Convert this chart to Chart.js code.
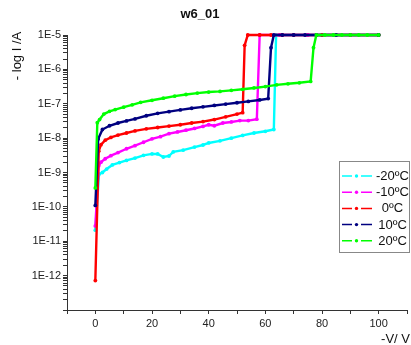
<!DOCTYPE html>
<html>
<head>
<meta charset="utf-8">
<script src="https://cdn.jsdelivr.net/npm/chart.js@4/dist/chart.umd.min.js"></script>
<style>
  html, body { margin: 0; padding: 0; background: #fff; }
  canvas { display: block; }
</style>
</head>
<body>
<canvas id="ivChart" width="411" height="345"></canvas>
<script>
// Series labels (top to bottom in the legend)
const seriesLabels = ['-20ºC', '-10ºC', '0ºC', '10ºC', '20ºC'];

// -V / V and current I / A for each temperature
const voltsM20 = [0, 1.3, 2.5, 4, 6, 8.5, 11, 14, 17, 20, 22, 24, 26, 27.5, 31, 35, 38, 40, 44, 48, 52, 56, 60, 63, 63.8, 70, 80, 90, 100];
const currentM20 = [2.1e-11, 8.9e-10, 1.0e-9, 1.26e-9, 1.66e-9, 1.95e-9, 2.24e-9, 2.63e-9, 3.16e-9, 3.47e-9, 3.47e-9, 2.82e-9, 3.02e-9, 3.98e-9, 4.47e-9, 5.5e-9, 6.31e-9, 7.24e-9, 8.32e-9, 1.0e-8, 1.2e-8, 1.41e-8, 1.58e-8, 1.78e-8, 1e-5, 1e-5, 1e-5, 1e-5, 1e-5];

const voltsM10 = [0, 1.2, 2, 3.5, 5.5, 8, 11, 14, 17, 20, 23, 26, 29, 32, 35, 38, 40, 42, 45, 48, 51, 54, 57, 58, 65, 75, 85, 100];
const currentM10 = [2.8e-11, 1.58e-9, 2.0e-9, 2.51e-9, 3.09e-9, 3.8e-9, 4.9e-9, 6.03e-9, 7.59e-9, 9.55e-9, 1.1e-8, 1.35e-8, 1.51e-8, 1.7e-8, 1.91e-8, 2.19e-8, 2.45e-8, 2.29e-8, 2.75e-8, 2.95e-8, 3.24e-8, 3.24e-8, 3.55e-8, 1e-5, 1e-5, 1e-5, 1e-5, 1e-5];

const volts0 = [0, 1.2, 2, 3.5, 5.5, 8, 11, 14, 18, 22, 26, 30, 34, 38, 42, 46, 50, 52, 52.7, 53.8, 58, 62, 66, 70, 80, 90, 100];
const current0 = [7.2e-13, 4.17e-9, 6.46e-9, 8.71e-9, 1.05e-8, 1.23e-8, 1.41e-8, 1.62e-8, 1.86e-8, 2.04e-8, 2.24e-8, 2.45e-8, 2.75e-8, 3.02e-8, 3.47e-8, 4.17e-8, 5.01e-8, 5.5e-8, 5.01e-6, 1e-5, 1e-5, 1e-5, 1e-5, 1e-5, 1e-5, 1e-5, 1e-5];

const volts10 = [0, 1, 2.5, 5, 8, 11, 14, 18, 22, 26, 30, 34, 38, 42, 46, 50, 54, 58, 61, 62, 63, 66, 70, 74, 78, 85, 100];
const current10 = [1.1e-10, 9.5e-9, 1.78e-8, 2.29e-8, 2.75e-8, 3.16e-8, 3.63e-8, 4.47e-8, 5.25e-8, 5.89e-8, 6.61e-8, 7.41e-8, 8.13e-8, 8.91e-8, 9.77e-8, 1.07e-7, 1.17e-7, 1.29e-7, 1.41e-7, 4.27e-6, 1e-5, 1e-5, 1e-5, 1e-5, 1e-5, 1e-5, 1e-5];

const volts20 = [0, 0.7, 1.5, 3, 5, 7, 10, 13, 16, 20, 24, 28, 32, 36, 40, 44, 48, 52, 56, 60, 64, 68, 72, 76, 77, 78, 81, 84, 87, 90, 93, 96, 100];
const current20 = [3.55e-10, 2.82e-8, 3.47e-8, 5.01e-8, 6.03e-8, 6.76e-8, 7.94e-8, 9.33e-8, 1.1e-7, 1.26e-7, 1.45e-7, 1.66e-7, 1.86e-7, 2.04e-7, 2.19e-7, 2.29e-7, 2.45e-7, 2.63e-7, 2.88e-7, 3.16e-7, 3.55e-7, 3.8e-7, 4.07e-7, 4.47e-7, 4.27e-6, 1e-5, 1e-5, 1e-5, 1e-5, 1e-5, 1e-5, 1e-5, 1e-5];

// Axis ticks
const xTickLabels = [0, 20, 40, 60, 80, 100];
const yDecades = [-12, -11, -10, -9, -8, -7, -6, -5];

const seriesVolts = [voltsM20, voltsM10, volts0, volts10, volts20];
const seriesCurrent = [currentM20, currentM10, current0, current10, current20];
const seriesColors = ['#00ffff', '#ff00ff', '#ff0000', '#000080', '#00ff00'];

const FONT = '"Liberation Sans", Arial, sans-serif';

// Build datasets; the warmer curves are drawn on top
const datasets = seriesLabels.map((label, i) => ({
  label: label,
  data: seriesVolts[i].map((v, j) => ({ x: v, y: seriesCurrent[i][j] })),
  borderColor: seriesColors[i],
  backgroundColor: seriesColors[i],
  borderWidth: 2.4,
  pointRadius: 1.9,
  pointBorderWidth: 0,
  pointBackgroundColor: seriesColors[i],
  tension: 0,
  clip: false,
  order: seriesLabels.length - 1 - i
}));

// Title, axis titles and boxed legend
const overlayPlugin = {
  id: 'overlay',
  afterDraw(chart) {
    const ctx = chart.ctx;
    ctx.save();
    ctx.fillStyle = '#111';
    ctx.textAlign = 'center';
    ctx.textBaseline = 'middle';
    ctx.font = 'bold 13px ' + FONT;
    ctx.fillText('w6_01', 200, 14);

    ctx.font = '13px ' + FONT;
    ctx.save();
    ctx.translate(17, 56);
    ctx.rotate(-Math.PI / 2);
    ctx.fillText('- log I /A', 0, 0);
    ctx.restore();

    ctx.textAlign = 'right';
    ctx.fillText('-V/ V', 410, 339);

    // legend box
    ctx.strokeStyle = '#888';
    ctx.lineWidth = 1;
    ctx.fillStyle = '#fff';
    ctx.fillRect(339.5, 161.5, 70, 91);
    ctx.strokeRect(339.5, 161.5, 70, 91);

    seriesLabels.forEach((label, i) => {
      const y = 176 + i * 16.2;
      ctx.strokeStyle = seriesColors[i];
      ctx.fillStyle = seriesColors[i];
      ctx.lineWidth = 1.5;
      ctx.beginPath();
      ctx.moveTo(342, y); ctx.lineTo(352, y);
      ctx.moveTo(361, y); ctx.lineTo(372, y);
      ctx.stroke();
      ctx.beginPath();
      ctx.arc(356.5, y, 1.7, 0, Math.PI * 2);
      ctx.fill();
      ctx.fillStyle = '#111';
      ctx.textAlign = 'center';
      ctx.fillText(label, 392.5, y + 0.5);
    });
    ctx.restore();
  }
};

const ctx = document.getElementById('ivChart').getContext('2d');
new Chart(ctx, {
  type: 'line',
  data: { datasets: datasets },
  options: {
    responsive: false,
    animation: false,
    layout: { padding: { top: 35, right: 2.5, left: 0, bottom: 0 } },
    plugins: {
      legend: { display: false },
      title: { display: false },
      tooltip: { enabled: false }
    },
    scales: {
      x: {
        type: 'linear',
        min: -10,
        max: 110,
        afterFit: s => { s.height = 35; },
        afterBuildTicks: s => {
          const t = [];
          for (let v = -10; v <= 110; v += 10) t.push({ value: v });
          s.ticks = t;
        },
        ticks: {
          autoSkip: false,
          maxRotation: 0,
          padding: 3,
          color: '#222',
          font: { family: FONT, size: 11 },
          callback: v => xTickLabels.includes(v) ? String(v) : ''
        },
        grid: { drawOnChartArea: false, drawTicks: true, tickLength: 4, color: '#333' },
        border: { display: true, color: '#333', width: 1 }
      },
      y: {
        type: 'logarithmic',
        min: 1e-13,
        max: 1e-5,
        afterFit: s => { s.width = 67; },
        afterBuildTicks: s => {
          const t = [];
          for (let e = -13; e <= -6; e++) {
            for (let m = 1; m <= 9; m++) t.push({ value: parseFloat(m + 'e' + e) });
          }
          t.push({ value: 1e-5 });
          s.ticks = t;
        },
        ticks: {
          autoSkip: false,
          padding: 2,
          color: '#222',
          font: { family: FONT, size: 11 },
          callback: v => {
            const e = Math.round(Math.log10(v));
            if (Math.abs(Math.log10(v) - e) < 1e-6 && yDecades.includes(e)) return '1E' + e;
            return '';
          }
        },
        grid: { drawOnChartArea: false, drawTicks: true, tickLength: 4, color: '#333' },
        border: { display: true, color: '#333', width: 1 }
      }
    }
  },
  plugins: [overlayPlugin]
});
</script>
</body>
</html>
